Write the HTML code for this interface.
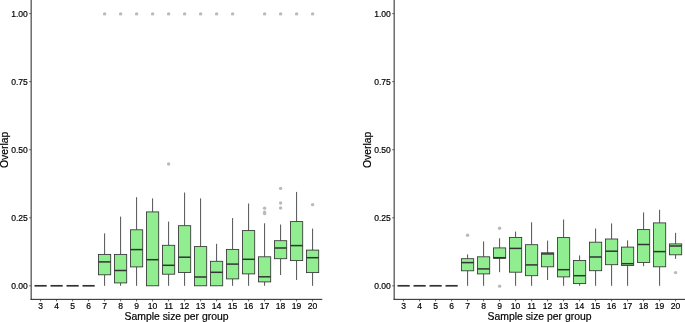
<!DOCTYPE html>
<html><head><meta charset="utf-8"><title>Overlap</title>
<style>
html,body{margin:0;padding:0;background:#fff;}
svg{display:block;font-family:"Liberation Sans",Arial,Helvetica,sans-serif;}
text{fill:#000;stroke:#000;stroke-width:0.18px;}
</style></head><body>
<svg width="685" height="322" viewBox="0 0 685 322">
<rect x="0" y="0" width="685" height="322" fill="#fff"/>
<g transform="translate(0,0)">
<circle cx="104.6" cy="13.9" r="1.72" fill="#bababa"/>
<circle cx="120.6" cy="13.9" r="1.72" fill="#bababa"/>
<circle cx="136.6" cy="13.9" r="1.72" fill="#bababa"/>
<circle cx="152.6" cy="13.9" r="1.72" fill="#bababa"/>
<circle cx="168.6" cy="13.9" r="1.72" fill="#bababa"/>
<circle cx="184.6" cy="13.9" r="1.72" fill="#bababa"/>
<circle cx="200.6" cy="13.9" r="1.72" fill="#bababa"/>
<circle cx="216.6" cy="13.9" r="1.72" fill="#bababa"/>
<circle cx="232.6" cy="13.9" r="1.72" fill="#bababa"/>
<circle cx="264.6" cy="13.9" r="1.72" fill="#bababa"/>
<circle cx="280.6" cy="13.9" r="1.72" fill="#bababa"/>
<circle cx="296.6" cy="13.9" r="1.72" fill="#bababa"/>
<circle cx="312.6" cy="13.9" r="1.72" fill="#bababa"/>
<circle cx="168.6" cy="164.0" r="1.72" fill="#bababa"/>
<circle cx="264.6" cy="208.15" r="1.72" fill="#bababa"/>
<circle cx="264.6" cy="212.1" r="1.72" fill="#bababa"/>
<circle cx="264.6" cy="213.6" r="1.72" fill="#bababa"/>
<circle cx="280.6" cy="188.4" r="1.72" fill="#bababa"/>
<circle cx="280.6" cy="203.0" r="1.72" fill="#bababa"/>
<circle cx="280.6" cy="208.0" r="1.72" fill="#bababa"/>
<circle cx="312.6" cy="204.65" r="1.72" fill="#bababa"/>
<line x1="34.50" x2="46.70" y1="285.8" y2="285.8" stroke="#333" stroke-width="1.7"/>
<line x1="50.50" x2="62.70" y1="285.8" y2="285.8" stroke="#333" stroke-width="1.7"/>
<line x1="66.50" x2="78.70" y1="285.8" y2="285.8" stroke="#333" stroke-width="1.7"/>
<line x1="82.50" x2="94.70" y1="285.8" y2="285.8" stroke="#333" stroke-width="1.7"/>
<line x1="104.60" x2="104.60" y1="233.40" y2="254.40" stroke="#333" stroke-width="0.85"/>
<line x1="104.60" x2="104.60" y1="274.80" y2="285.80" stroke="#333" stroke-width="0.85"/>
<rect x="98.50" y="254.40" width="12.2" height="20.40" fill="#90ee90" stroke="#333" stroke-width="0.85"/>
<line x1="98.50" x2="110.70" y1="261.90" y2="261.90" stroke="#333" stroke-width="1.5"/>
<line x1="120.60" x2="120.60" y1="216.60" y2="254.40" stroke="#333" stroke-width="0.85"/>
<line x1="120.60" x2="120.60" y1="282.90" y2="285.80" stroke="#333" stroke-width="0.85"/>
<rect x="114.50" y="254.40" width="12.2" height="28.50" fill="#90ee90" stroke="#333" stroke-width="0.85"/>
<line x1="114.50" x2="126.70" y1="270.50" y2="270.50" stroke="#333" stroke-width="1.5"/>
<line x1="136.60" x2="136.60" y1="197.20" y2="229.80" stroke="#333" stroke-width="0.85"/>
<line x1="136.60" x2="136.60" y1="266.90" y2="285.80" stroke="#333" stroke-width="0.85"/>
<rect x="130.50" y="229.80" width="12.2" height="37.10" fill="#90ee90" stroke="#333" stroke-width="0.85"/>
<line x1="130.50" x2="142.70" y1="249.60" y2="249.60" stroke="#333" stroke-width="1.5"/>
<line x1="152.60" x2="152.60" y1="198.40" y2="211.90" stroke="#333" stroke-width="0.85"/>
<rect x="146.50" y="211.90" width="12.2" height="73.90" fill="#90ee90" stroke="#333" stroke-width="0.85"/>
<line x1="146.50" x2="158.70" y1="259.70" y2="259.70" stroke="#333" stroke-width="1.5"/>
<line x1="168.60" x2="168.60" y1="221.60" y2="245.30" stroke="#333" stroke-width="0.85"/>
<line x1="168.60" x2="168.60" y1="274.20" y2="285.80" stroke="#333" stroke-width="0.85"/>
<rect x="162.50" y="245.30" width="12.2" height="28.90" fill="#90ee90" stroke="#333" stroke-width="0.85"/>
<line x1="162.50" x2="174.70" y1="265.30" y2="265.30" stroke="#333" stroke-width="1.5"/>
<line x1="184.60" x2="184.60" y1="192.50" y2="225.70" stroke="#333" stroke-width="0.85"/>
<line x1="184.60" x2="184.60" y1="272.50" y2="285.80" stroke="#333" stroke-width="0.85"/>
<rect x="178.50" y="225.70" width="12.2" height="46.80" fill="#90ee90" stroke="#333" stroke-width="0.85"/>
<line x1="178.50" x2="190.70" y1="257.20" y2="257.20" stroke="#333" stroke-width="1.5"/>
<line x1="200.60" x2="200.60" y1="198.40" y2="246.60" stroke="#333" stroke-width="0.85"/>
<rect x="194.50" y="246.60" width="12.2" height="39.20" fill="#90ee90" stroke="#333" stroke-width="0.85"/>
<line x1="194.50" x2="206.70" y1="277.00" y2="277.00" stroke="#333" stroke-width="1.5"/>
<line x1="216.60" x2="216.60" y1="243.80" y2="261.30" stroke="#333" stroke-width="0.85"/>
<rect x="210.50" y="261.30" width="12.2" height="24.50" fill="#90ee90" stroke="#333" stroke-width="0.85"/>
<line x1="210.50" x2="222.70" y1="272.30" y2="272.30" stroke="#333" stroke-width="1.5"/>
<line x1="232.60" x2="232.60" y1="218.10" y2="249.40" stroke="#333" stroke-width="0.85"/>
<line x1="232.60" x2="232.60" y1="278.90" y2="285.80" stroke="#333" stroke-width="0.85"/>
<rect x="226.50" y="249.40" width="12.2" height="29.50" fill="#90ee90" stroke="#333" stroke-width="0.85"/>
<line x1="226.50" x2="238.70" y1="264.10" y2="264.10" stroke="#333" stroke-width="1.5"/>
<line x1="248.60" x2="248.60" y1="203.50" y2="230.60" stroke="#333" stroke-width="0.85"/>
<line x1="248.60" x2="248.60" y1="273.90" y2="285.80" stroke="#333" stroke-width="0.85"/>
<rect x="242.50" y="230.60" width="12.2" height="43.30" fill="#90ee90" stroke="#333" stroke-width="0.85"/>
<line x1="242.50" x2="254.70" y1="259.30" y2="259.30" stroke="#333" stroke-width="1.5"/>
<line x1="264.60" x2="264.60" y1="223.30" y2="256.80" stroke="#333" stroke-width="0.85"/>
<line x1="264.60" x2="264.60" y1="281.90" y2="285.80" stroke="#333" stroke-width="0.85"/>
<rect x="258.50" y="256.80" width="12.2" height="25.10" fill="#90ee90" stroke="#333" stroke-width="0.85"/>
<line x1="258.50" x2="270.70" y1="276.80" y2="276.80" stroke="#333" stroke-width="1.5"/>
<line x1="280.60" x2="280.60" y1="224.50" y2="240.70" stroke="#333" stroke-width="0.85"/>
<line x1="280.60" x2="280.60" y1="258.70" y2="275.00" stroke="#333" stroke-width="0.85"/>
<rect x="274.50" y="240.70" width="12.2" height="18.00" fill="#90ee90" stroke="#333" stroke-width="0.85"/>
<line x1="274.50" x2="286.70" y1="248.00" y2="248.00" stroke="#333" stroke-width="1.5"/>
<line x1="296.60" x2="296.60" y1="191.90" y2="221.60" stroke="#333" stroke-width="0.85"/>
<line x1="296.60" x2="296.60" y1="260.60" y2="280.00" stroke="#333" stroke-width="0.85"/>
<rect x="290.50" y="221.60" width="12.2" height="39.00" fill="#90ee90" stroke="#333" stroke-width="0.85"/>
<line x1="290.50" x2="302.70" y1="245.60" y2="245.60" stroke="#333" stroke-width="1.5"/>
<line x1="312.60" x2="312.60" y1="228.60" y2="250.10" stroke="#333" stroke-width="0.85"/>
<line x1="312.60" x2="312.60" y1="272.60" y2="285.80" stroke="#333" stroke-width="0.85"/>
<rect x="306.50" y="250.10" width="12.2" height="22.50" fill="#90ee90" stroke="#333" stroke-width="0.85"/>
<line x1="306.50" x2="318.70" y1="257.70" y2="257.70" stroke="#333" stroke-width="1.5"/>
<line x1="31.15" x2="31.15" y1="0" y2="299.85" stroke="#222" stroke-width="1"/>
<line x1="30.65" x2="322.3" y1="299.35" y2="299.35" stroke="#222" stroke-width="1"/>
<line x1="29.15" x2="31.15" y1="285.80" y2="285.80" stroke="#333" stroke-width="0.7"/>
<text x="27.8" y="288.95" text-anchor="end" font-size="8.55">0.00</text>
<line x1="29.15" x2="31.15" y1="217.75" y2="217.75" stroke="#333" stroke-width="0.7"/>
<text x="27.8" y="220.90" text-anchor="end" font-size="8.55">0.25</text>
<line x1="29.15" x2="31.15" y1="149.70" y2="149.70" stroke="#333" stroke-width="0.7"/>
<text x="27.8" y="152.85" text-anchor="end" font-size="8.55">0.50</text>
<line x1="29.15" x2="31.15" y1="81.65" y2="81.65" stroke="#333" stroke-width="0.7"/>
<text x="27.8" y="84.80" text-anchor="end" font-size="8.55">0.75</text>
<line x1="29.15" x2="31.15" y1="13.60" y2="13.60" stroke="#333" stroke-width="0.7"/>
<text x="27.8" y="16.75" text-anchor="end" font-size="8.55">1.00</text>
<line x1="40.60" x2="40.60" y1="299.35" y2="301.35" stroke="#333" stroke-width="0.8"/>
<text x="40.60" y="308.7" text-anchor="middle" font-size="8.55">3</text>
<line x1="56.60" x2="56.60" y1="299.35" y2="301.35" stroke="#333" stroke-width="0.8"/>
<text x="56.60" y="308.7" text-anchor="middle" font-size="8.55">4</text>
<line x1="72.60" x2="72.60" y1="299.35" y2="301.35" stroke="#333" stroke-width="0.8"/>
<text x="72.60" y="308.7" text-anchor="middle" font-size="8.55">5</text>
<line x1="88.60" x2="88.60" y1="299.35" y2="301.35" stroke="#333" stroke-width="0.8"/>
<text x="88.60" y="308.7" text-anchor="middle" font-size="8.55">6</text>
<line x1="104.60" x2="104.60" y1="299.35" y2="301.35" stroke="#333" stroke-width="0.8"/>
<text x="104.60" y="308.7" text-anchor="middle" font-size="8.55">7</text>
<line x1="120.60" x2="120.60" y1="299.35" y2="301.35" stroke="#333" stroke-width="0.8"/>
<text x="120.60" y="308.7" text-anchor="middle" font-size="8.55">8</text>
<line x1="136.60" x2="136.60" y1="299.35" y2="301.35" stroke="#333" stroke-width="0.8"/>
<text x="136.60" y="308.7" text-anchor="middle" font-size="8.55">9</text>
<line x1="152.60" x2="152.60" y1="299.35" y2="301.35" stroke="#333" stroke-width="0.8"/>
<text x="152.60" y="308.7" text-anchor="middle" font-size="8.55">10</text>
<line x1="168.60" x2="168.60" y1="299.35" y2="301.35" stroke="#333" stroke-width="0.8"/>
<text x="168.60" y="308.7" text-anchor="middle" font-size="8.55">11</text>
<line x1="184.60" x2="184.60" y1="299.35" y2="301.35" stroke="#333" stroke-width="0.8"/>
<text x="184.60" y="308.7" text-anchor="middle" font-size="8.55">12</text>
<line x1="200.60" x2="200.60" y1="299.35" y2="301.35" stroke="#333" stroke-width="0.8"/>
<text x="200.60" y="308.7" text-anchor="middle" font-size="8.55">13</text>
<line x1="216.60" x2="216.60" y1="299.35" y2="301.35" stroke="#333" stroke-width="0.8"/>
<text x="216.60" y="308.7" text-anchor="middle" font-size="8.55">14</text>
<line x1="232.60" x2="232.60" y1="299.35" y2="301.35" stroke="#333" stroke-width="0.8"/>
<text x="232.60" y="308.7" text-anchor="middle" font-size="8.55">15</text>
<line x1="248.60" x2="248.60" y1="299.35" y2="301.35" stroke="#333" stroke-width="0.8"/>
<text x="248.60" y="308.7" text-anchor="middle" font-size="8.55">16</text>
<line x1="264.60" x2="264.60" y1="299.35" y2="301.35" stroke="#333" stroke-width="0.8"/>
<text x="264.60" y="308.7" text-anchor="middle" font-size="8.55">17</text>
<line x1="280.60" x2="280.60" y1="299.35" y2="301.35" stroke="#333" stroke-width="0.8"/>
<text x="280.60" y="308.7" text-anchor="middle" font-size="8.55">18</text>
<line x1="296.60" x2="296.60" y1="299.35" y2="301.35" stroke="#333" stroke-width="0.8"/>
<text x="296.60" y="308.7" text-anchor="middle" font-size="8.55">19</text>
<line x1="312.60" x2="312.60" y1="299.35" y2="301.35" stroke="#333" stroke-width="0.8"/>
<text x="312.60" y="308.7" text-anchor="middle" font-size="8.55">20</text>
<text x="176.5" y="320" text-anchor="middle" font-size="10.4">Sample size per group</text>
<text transform="translate(8.2,149.8) rotate(-90)" text-anchor="middle" font-size="10.4">Overlap</text>
</g>
<g transform="translate(363,0)">
<circle cx="104.6" cy="235.2" r="1.72" fill="#bababa"/>
<circle cx="136.6" cy="228.2" r="1.72" fill="#bababa"/>
<circle cx="136.6" cy="286.15" r="1.72" fill="#bababa"/>
<circle cx="312.6" cy="272.6" r="1.72" fill="#bababa"/>
<line x1="34.50" x2="46.70" y1="285.8" y2="285.8" stroke="#333" stroke-width="1.7"/>
<line x1="50.50" x2="62.70" y1="285.8" y2="285.8" stroke="#333" stroke-width="1.7"/>
<line x1="66.50" x2="78.70" y1="285.8" y2="285.8" stroke="#333" stroke-width="1.7"/>
<line x1="82.50" x2="94.70" y1="285.8" y2="285.8" stroke="#333" stroke-width="1.7"/>
<line x1="104.60" x2="104.60" y1="254.40" y2="258.70" stroke="#333" stroke-width="0.85"/>
<line x1="104.60" x2="104.60" y1="270.80" y2="285.80" stroke="#333" stroke-width="0.85"/>
<rect x="98.50" y="258.70" width="12.2" height="12.10" fill="#90ee90" stroke="#333" stroke-width="0.85"/>
<line x1="98.50" x2="110.70" y1="262.60" y2="262.60" stroke="#333" stroke-width="1.5"/>
<line x1="120.60" x2="120.60" y1="241.40" y2="256.80" stroke="#333" stroke-width="0.85"/>
<line x1="120.60" x2="120.60" y1="273.90" y2="285.80" stroke="#333" stroke-width="0.85"/>
<rect x="114.50" y="256.80" width="12.2" height="17.10" fill="#90ee90" stroke="#333" stroke-width="0.85"/>
<line x1="114.50" x2="126.70" y1="268.90" y2="268.90" stroke="#333" stroke-width="1.5"/>
<line x1="136.60" x2="136.60" y1="238.30" y2="247.90" stroke="#333" stroke-width="0.85"/>
<line x1="136.60" x2="136.60" y1="258.30" y2="272.20" stroke="#333" stroke-width="0.85"/>
<rect x="130.50" y="247.90" width="12.2" height="10.40" fill="#90ee90" stroke="#333" stroke-width="0.85"/>
<line x1="130.50" x2="142.70" y1="257.70" y2="257.70" stroke="#333" stroke-width="1.5"/>
<line x1="152.60" x2="152.60" y1="231.60" y2="237.40" stroke="#333" stroke-width="0.85"/>
<line x1="152.60" x2="152.60" y1="272.20" y2="285.80" stroke="#333" stroke-width="0.85"/>
<rect x="146.50" y="237.40" width="12.2" height="34.80" fill="#90ee90" stroke="#333" stroke-width="0.85"/>
<line x1="146.50" x2="158.70" y1="248.40" y2="248.40" stroke="#333" stroke-width="1.5"/>
<line x1="168.60" x2="168.60" y1="222.30" y2="244.70" stroke="#333" stroke-width="0.85"/>
<line x1="168.60" x2="168.60" y1="275.70" y2="285.80" stroke="#333" stroke-width="0.85"/>
<rect x="162.50" y="244.70" width="12.2" height="31.00" fill="#90ee90" stroke="#333" stroke-width="0.85"/>
<line x1="162.50" x2="174.70" y1="264.90" y2="264.90" stroke="#333" stroke-width="1.5"/>
<line x1="184.60" x2="184.60" y1="240.60" y2="252.80" stroke="#333" stroke-width="0.85"/>
<line x1="184.60" x2="184.60" y1="266.80" y2="280.00" stroke="#333" stroke-width="0.85"/>
<rect x="178.50" y="252.80" width="12.2" height="14.00" fill="#90ee90" stroke="#333" stroke-width="0.85"/>
<line x1="178.50" x2="190.70" y1="253.90" y2="253.90" stroke="#333" stroke-width="1.5"/>
<line x1="200.60" x2="200.60" y1="219.50" y2="237.60" stroke="#333" stroke-width="0.85"/>
<line x1="200.60" x2="200.60" y1="276.90" y2="285.80" stroke="#333" stroke-width="0.85"/>
<rect x="194.50" y="237.60" width="12.2" height="39.30" fill="#90ee90" stroke="#333" stroke-width="0.85"/>
<line x1="194.50" x2="206.70" y1="269.70" y2="269.70" stroke="#333" stroke-width="1.5"/>
<line x1="216.60" x2="216.60" y1="255.40" y2="260.50" stroke="#333" stroke-width="0.85"/>
<line x1="216.60" x2="216.60" y1="283.60" y2="285.80" stroke="#333" stroke-width="0.85"/>
<rect x="210.50" y="260.50" width="12.2" height="23.10" fill="#90ee90" stroke="#333" stroke-width="0.85"/>
<line x1="210.50" x2="222.70" y1="275.70" y2="275.70" stroke="#333" stroke-width="1.5"/>
<line x1="232.60" x2="232.60" y1="228.50" y2="242.20" stroke="#333" stroke-width="0.85"/>
<line x1="232.60" x2="232.60" y1="270.70" y2="285.80" stroke="#333" stroke-width="0.85"/>
<rect x="226.50" y="242.20" width="12.2" height="28.50" fill="#90ee90" stroke="#333" stroke-width="0.85"/>
<line x1="226.50" x2="238.70" y1="257.00" y2="257.00" stroke="#333" stroke-width="1.5"/>
<line x1="248.60" x2="248.60" y1="223.40" y2="239.00" stroke="#333" stroke-width="0.85"/>
<line x1="248.60" x2="248.60" y1="264.70" y2="285.80" stroke="#333" stroke-width="0.85"/>
<rect x="242.50" y="239.00" width="12.2" height="25.70" fill="#90ee90" stroke="#333" stroke-width="0.85"/>
<line x1="242.50" x2="254.70" y1="251.20" y2="251.20" stroke="#333" stroke-width="1.5"/>
<line x1="264.60" x2="264.60" y1="240.40" y2="247.10" stroke="#333" stroke-width="0.85"/>
<line x1="264.60" x2="264.60" y1="265.50" y2="285.80" stroke="#333" stroke-width="0.85"/>
<rect x="258.50" y="247.10" width="12.2" height="18.40" fill="#90ee90" stroke="#333" stroke-width="0.85"/>
<line x1="258.50" x2="270.70" y1="263.70" y2="263.70" stroke="#333" stroke-width="1.5"/>
<line x1="280.60" x2="280.60" y1="212.40" y2="229.60" stroke="#333" stroke-width="0.85"/>
<line x1="280.60" x2="280.60" y1="262.50" y2="266.20" stroke="#333" stroke-width="0.85"/>
<rect x="274.50" y="229.60" width="12.2" height="32.90" fill="#90ee90" stroke="#333" stroke-width="0.85"/>
<line x1="274.50" x2="286.70" y1="244.50" y2="244.50" stroke="#333" stroke-width="1.5"/>
<line x1="296.60" x2="296.60" y1="209.80" y2="222.90" stroke="#333" stroke-width="0.85"/>
<line x1="296.60" x2="296.60" y1="266.80" y2="285.80" stroke="#333" stroke-width="0.85"/>
<rect x="290.50" y="222.90" width="12.2" height="43.90" fill="#90ee90" stroke="#333" stroke-width="0.85"/>
<line x1="290.50" x2="302.70" y1="251.60" y2="251.60" stroke="#333" stroke-width="1.5"/>
<line x1="312.60" x2="312.60" y1="232.80" y2="243.90" stroke="#333" stroke-width="0.85"/>
<line x1="312.60" x2="312.60" y1="254.80" y2="258.90" stroke="#333" stroke-width="0.85"/>
<rect x="306.50" y="243.90" width="12.2" height="10.90" fill="#90ee90" stroke="#333" stroke-width="0.85"/>
<line x1="306.50" x2="318.70" y1="246.00" y2="246.00" stroke="#333" stroke-width="1.5"/>
<line x1="31.15" x2="31.15" y1="0" y2="299.85" stroke="#222" stroke-width="1"/>
<line x1="30.65" x2="322.3" y1="299.35" y2="299.35" stroke="#222" stroke-width="1"/>
<line x1="29.15" x2="31.15" y1="285.80" y2="285.80" stroke="#333" stroke-width="0.7"/>
<text x="27.8" y="288.95" text-anchor="end" font-size="8.55">0.00</text>
<line x1="29.15" x2="31.15" y1="217.75" y2="217.75" stroke="#333" stroke-width="0.7"/>
<text x="27.8" y="220.90" text-anchor="end" font-size="8.55">0.25</text>
<line x1="29.15" x2="31.15" y1="149.70" y2="149.70" stroke="#333" stroke-width="0.7"/>
<text x="27.8" y="152.85" text-anchor="end" font-size="8.55">0.50</text>
<line x1="29.15" x2="31.15" y1="81.65" y2="81.65" stroke="#333" stroke-width="0.7"/>
<text x="27.8" y="84.80" text-anchor="end" font-size="8.55">0.75</text>
<line x1="29.15" x2="31.15" y1="13.60" y2="13.60" stroke="#333" stroke-width="0.7"/>
<text x="27.8" y="16.75" text-anchor="end" font-size="8.55">1.00</text>
<line x1="40.60" x2="40.60" y1="299.35" y2="301.35" stroke="#333" stroke-width="0.8"/>
<text x="40.60" y="308.7" text-anchor="middle" font-size="8.55">3</text>
<line x1="56.60" x2="56.60" y1="299.35" y2="301.35" stroke="#333" stroke-width="0.8"/>
<text x="56.60" y="308.7" text-anchor="middle" font-size="8.55">4</text>
<line x1="72.60" x2="72.60" y1="299.35" y2="301.35" stroke="#333" stroke-width="0.8"/>
<text x="72.60" y="308.7" text-anchor="middle" font-size="8.55">5</text>
<line x1="88.60" x2="88.60" y1="299.35" y2="301.35" stroke="#333" stroke-width="0.8"/>
<text x="88.60" y="308.7" text-anchor="middle" font-size="8.55">6</text>
<line x1="104.60" x2="104.60" y1="299.35" y2="301.35" stroke="#333" stroke-width="0.8"/>
<text x="104.60" y="308.7" text-anchor="middle" font-size="8.55">7</text>
<line x1="120.60" x2="120.60" y1="299.35" y2="301.35" stroke="#333" stroke-width="0.8"/>
<text x="120.60" y="308.7" text-anchor="middle" font-size="8.55">8</text>
<line x1="136.60" x2="136.60" y1="299.35" y2="301.35" stroke="#333" stroke-width="0.8"/>
<text x="136.60" y="308.7" text-anchor="middle" font-size="8.55">9</text>
<line x1="152.60" x2="152.60" y1="299.35" y2="301.35" stroke="#333" stroke-width="0.8"/>
<text x="152.60" y="308.7" text-anchor="middle" font-size="8.55">10</text>
<line x1="168.60" x2="168.60" y1="299.35" y2="301.35" stroke="#333" stroke-width="0.8"/>
<text x="168.60" y="308.7" text-anchor="middle" font-size="8.55">11</text>
<line x1="184.60" x2="184.60" y1="299.35" y2="301.35" stroke="#333" stroke-width="0.8"/>
<text x="184.60" y="308.7" text-anchor="middle" font-size="8.55">12</text>
<line x1="200.60" x2="200.60" y1="299.35" y2="301.35" stroke="#333" stroke-width="0.8"/>
<text x="200.60" y="308.7" text-anchor="middle" font-size="8.55">13</text>
<line x1="216.60" x2="216.60" y1="299.35" y2="301.35" stroke="#333" stroke-width="0.8"/>
<text x="216.60" y="308.7" text-anchor="middle" font-size="8.55">14</text>
<line x1="232.60" x2="232.60" y1="299.35" y2="301.35" stroke="#333" stroke-width="0.8"/>
<text x="232.60" y="308.7" text-anchor="middle" font-size="8.55">15</text>
<line x1="248.60" x2="248.60" y1="299.35" y2="301.35" stroke="#333" stroke-width="0.8"/>
<text x="248.60" y="308.7" text-anchor="middle" font-size="8.55">16</text>
<line x1="264.60" x2="264.60" y1="299.35" y2="301.35" stroke="#333" stroke-width="0.8"/>
<text x="264.60" y="308.7" text-anchor="middle" font-size="8.55">17</text>
<line x1="280.60" x2="280.60" y1="299.35" y2="301.35" stroke="#333" stroke-width="0.8"/>
<text x="280.60" y="308.7" text-anchor="middle" font-size="8.55">18</text>
<line x1="296.60" x2="296.60" y1="299.35" y2="301.35" stroke="#333" stroke-width="0.8"/>
<text x="296.60" y="308.7" text-anchor="middle" font-size="8.55">19</text>
<line x1="312.60" x2="312.60" y1="299.35" y2="301.35" stroke="#333" stroke-width="0.8"/>
<text x="312.60" y="308.7" text-anchor="middle" font-size="8.55">20</text>
<text x="176.5" y="320" text-anchor="middle" font-size="10.4">Sample size per group</text>
<text transform="translate(8.2,149.8) rotate(-90)" text-anchor="middle" font-size="10.4">Overlap</text>
</g>
</svg>
</body></html>
